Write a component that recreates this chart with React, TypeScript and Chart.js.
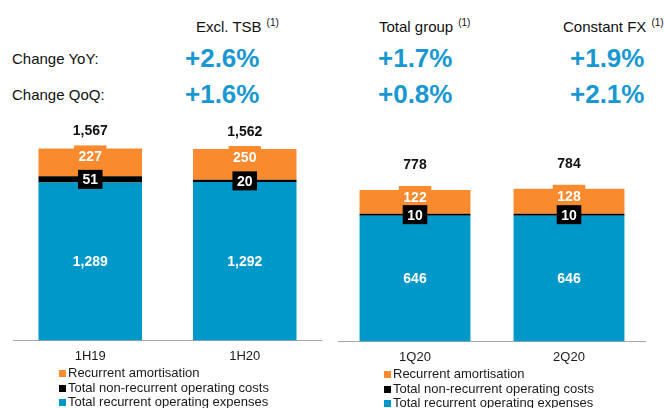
import React, { useEffect, useRef } from "react";
import { Chart, registerables } from "chart.js";

Chart.register(...registerables);

// ---------- data ----------
const leftCategories = ["1H19", "1H20"];
const rightCategories = ["1Q20", "2Q20"];
const seriesNames = [
  "Total recurrent operating expenses",
  "Total non-recurrent operating costs",
  "Recurrent amortisation",
];
const leftRecurrentOpex = [1289, 1292];
const leftNonRecurrent = [51, 20];
const leftAmortisation = [227, 250];
const leftTotals = [1567, 1562];
const rightRecurrentOpex = [646, 646];
const rightNonRecurrent = [10, 10];
const rightAmortisation = [122, 128];
const rightTotals = [778, 784];
const headerColumns = ["Excl. TSB", "Total group", "Constant FX"];
const headerNote = "(1)";
const rowLabels = ["Change YoY:", "Change QoQ:"];
const changeYoY = ["+2.6%", "+1.7%", "+1.9%"];
const changeQoQ = ["+1.6%", "+0.8%", "+2.1%"];

// ---------- styles ----------
const FONT = "'Liberation Sans', Arial, Helvetica, sans-serif";
const BLUE = "#0097c9";
const BLACK = "#000000";
const ORANGE = "#f98a2e";
const HEAD_BLUE = "#1897d1";
const seriesColors = [BLUE, BLACK, ORANGE];

const fmt = (v: number) => v.toLocaleString("en-US");

const labelPlugin = {
  id: "segLabels",
  afterDatasetsDraw(chart: any, _args: any, opts: any) {
    const ctx = chart.ctx as CanvasRenderingContext2D;
    const ds = chart.data.datasets;
    const mBlue = chart.getDatasetMeta(0);
    const mBlack = chart.getDatasetMeta(1);
    const mOrange = chart.getDatasetMeta(2);
    ctx.save();
    ctx.font = `bold 14px ${FONT}`;
    ctx.textAlign = "center";
    ctx.textBaseline = "middle";
    // blue segment values
    mBlue.data.forEach((el: any, i: number) => {
      const cy = (el.y + el.base) / 2 + 1;
      ctx.fillStyle = "#ffffff";
      ctx.fillText(fmt(ds[0].data[i]), el.x, cy);
    });
    // orange segment values with orange box
    mOrange.data.forEach((el: any, i: number) => {
      const txt = fmt(ds[2].data[i]);
      const w = ctx.measureText(txt).width + 9;
      const cy = el.y + opts.orangeOffset;
      ctx.fillStyle = ORANGE;
      ctx.fillRect(el.x - w / 2, cy - 11, w, 22);
      ctx.fillStyle = "#ffffff";
      ctx.fillText(txt, el.x, cy + 1);
    });
    // black segment values in black box
    mBlack.data.forEach((el: any, i: number) => {
      const txt = fmt(ds[1].data[i]);
      const w = ctx.measureText(txt).width + 9;
      const cy = (el.y + el.base) / 2;
      ctx.fillStyle = BLACK;
      ctx.fillRect(el.x - w / 2, cy - 9.5, w, 19);
      ctx.fillStyle = "#ffffff";
      ctx.fillText(txt, el.x, cy + 1);
    });
    // totals
    mOrange.data.forEach((el: any, i: number) => {
      ctx.fillStyle = "#111111";
      ctx.fillText(fmt(opts.totals[i]), el.x, el.y - opts.totalOffset);
    });
    ctx.restore();
  },
};

function makeConfig(
  labels: string[],
  opex: number[],
  nonRec: number[],
  amort: number[],
  totals: number[],
  yMax: number,
  barPct: number,
  totalOffset: number,
  orangeOffset: number
): any {
  const values = [opex, nonRec, amort];
  return {
    type: "bar",
    data: {
      labels,
      datasets: values.map((d, k) => ({
        label: seriesNames[k],
        data: d,
        backgroundColor: seriesColors[k],
        borderWidth: 0,
        stack: "s",
        categoryPercentage: 1,
        barPercentage: barPct,
      })),
    },
    options: {
      animation: false,
      responsive: false,
      maintainAspectRatio: false,
      layout: { padding: 0 },
      plugins: {
        legend: { display: false },
        tooltip: { enabled: false },
        segLabels: { totals, totalOffset, orangeOffset },
      },
      scales: {
        x: {
          stacked: true,
          grid: { display: false, drawTicks: false },
          border: { display: true, color: "#a6a6a6", width: 1 },
          ticks: { color: "#1a1a1a", font: { size: 13, family: FONT }, padding: 8 },
        },
        y: { stacked: true, display: false, min: 0, max: yMax },
      },
    },
    plugins: [labelPlugin],
  };
}

function BarPanel(props: {
  left: number;
  top: number;
  width: number;
  height: number;
  config: any;
}) {
  const ref = useRef<HTMLCanvasElement | null>(null);
  useEffect(() => {
    if (!ref.current) return;
    const chart = new Chart(ref.current, props.config);
    return () => chart.destroy();
  }, []);
  return (
    <canvas
      ref={ref}
      width={props.width}
      height={props.height}
      style={{
        position: "absolute",
        left: props.left,
        top: props.top,
        width: props.width,
        height: props.height,
      }}
    />
  );
}

function Legend(props: { left: number; top: number }) {
  const order = [2, 1, 0];
  return (
    <div style={{ position: "absolute", left: props.left, top: props.top }}>
      {order.map((k) => (
        <div
          key={k}
          style={{
            display: "flex",
            alignItems: "center",
            height: 14.7,
            fontSize: 13,
            lineHeight: "14.7px",
            color: "#1a1a1a",
            whiteSpace: "nowrap",
          }}
        >
          <span
            style={{
              display: "inline-block",
              width: 7,
              height: 7,
              background: seriesColors[k],
              marginRight: 2,
            }}
          />
          <span>{seriesNames[k]}</span>
        </div>
      ))}
    </div>
  );
}

export default function App() {
  const colLeft = [196, 379, 563];
  const valLeft = [185, 378, 570];
  const leftCfg = makeConfig(
    leftCategories,
    leftRecurrentOpex,
    leftNonRecurrent,
    leftAmortisation,
    leftTotals,
    1848,
    0.67,
    17,
    8
  );
  const rightCfg = makeConfig(
    rightCategories,
    rightRecurrentOpex,
    rightNonRecurrent,
    rightAmortisation,
    rightTotals,
    1163,
    0.72,
    25,
    7
  );
  return (
    <div
      style={{
        position: "absolute",
        left: 0,
        top: 0,
        width: 665,
        height: 408,
        background: "#ffffff",
        overflow: "hidden",
        fontFamily: FONT,
        color: "#111111",
      }}
    >
      {headerColumns.map((h, i) => (
        <div
          key={h}
          style={{
            position: "absolute",
            left: colLeft[i],
            top: 18,
            fontSize: 15,
            lineHeight: "18px",
            whiteSpace: "nowrap",
          }}
        >
          {h}
          <span
            style={{
              fontSize: 10,
              position: "relative",
              top: -6,
              marginLeft: 5,
            }}
          >
            {headerNote}
          </span>
        </div>
      ))}
      {rowLabels.map((r, j) => (
        <div
          key={r}
          style={{
            position: "absolute",
            left: 12,
            top: j === 0 ? 50 : 86,
            fontSize: 15,
            lineHeight: "18px",
            whiteSpace: "nowrap",
          }}
        >
          {r}
        </div>
      ))}
      {[changeYoY, changeQoQ].map((row, j) =>
        row.map((v, i) => (
          <div
            key={`${j}-${i}`}
            style={{
              position: "absolute",
              left: valLeft[i],
              top: j === 0 ? 43 : 79,
              fontSize: 26,
              fontWeight: "bold",
              lineHeight: "30px",
              color: HEAD_BLUE,
              whiteSpace: "nowrap",
            }}
          >
            {v}
          </div>
        ))
      )}
      <BarPanel left={13} top={114} width={309} height={258} config={leftCfg} />
      <BarPanel left={338} top={115} width={308} height={258} config={rightCfg} />
      <Legend left={59} top={366} />
      <Legend left={384} top={367} />
    </div>
  );
}
